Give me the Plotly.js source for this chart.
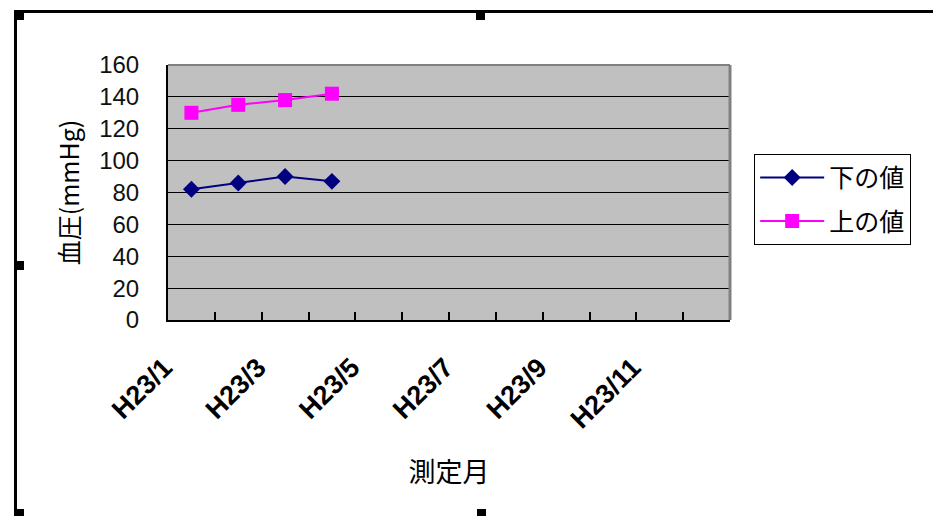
<!DOCTYPE html>
<html>
<head>
<meta charset="utf-8">
<script src="https://cdn.plot.ly/plotly-3.0.1.min.js"></script>
<style>
  html, body { margin: 0; padding: 0; background: #fff; }
  #wrap { position: relative; width: 933px; height: 516px; overflow: hidden; }
  #chart { position: absolute; left: 0; top: 0; width: 933px; height: 516px; }
  .frame { position: absolute; background: #000; }
</style>
</head>
<body>
<div id="wrap">
  <div id="chart"></div>
  <!-- chart-object selection frame -->
  <div class="frame" style="left:14px; top:10px; width:919px; height:3px;"></div>
  <div class="frame" style="left:14px; top:10px; width:3px; height:506px;"></div>
  <div class="frame" style="left:14px; top:10px; width:10px; height:10px;"></div>
  <div class="frame" style="left:476px; top:10px; width:9px; height:10px;"></div>
  <div class="frame" style="left:14px; top:261px; width:10px; height:9px;"></div>
  <div class="frame" style="left:14px; top:509px; width:10px; height:7px;"></div>
  <div class="frame" style="left:477px; top:509px; width:9px; height:7px;"></div>
</div>
<script>
// ---- data ----
const months = ['H23/1','H23/2','H23/3','H23/4','H23/5','H23/6','H23/7','H23/8','H23/9','H23/10','H23/11','H23/12'];
const tickLabels = ['H23/1','H23/3','H23/5','H23/7','H23/9','H23/11'];
const measuredMonths = ['H23/1','H23/2','H23/3','H23/4'];
const lowerValues = [82, 86, 90, 87];   // 下の値
const upperValues = [130, 135, 138, 142]; // 上の値
const seriesNames = ['下の値', '上の値'];

const latin = 'Liberation Sans, Arial, Noto Sans CJK JP, sans-serif';
const cjk = 'Noto Sans CJK JP, Liberation Sans, sans-serif';

const traces = [
  {
    x: measuredMonths, y: lowerValues, name: seriesNames[0], type: 'scatter', mode: 'lines+markers',
    line: {color: '#000080', width: 2},
    marker: {symbol: 'diamond', size: 13, color: '#000080'},
    legendgroup: 'a'
  },
  {
    x: measuredMonths, y: upperValues, name: seriesNames[1], type: 'scatter', mode: 'lines+markers',
    line: {color: '#FF00FF', width: 2},
    marker: {symbol: 'square', size: 14, color: '#FF00FF'},
    legendgroup: 'b'
  }
];

const layout = {
  width: 933, height: 516,
  margin: {l: 168, r: 203, t: 65, b: 196},
  paper_bgcolor: 'rgba(0,0,0,0)',
  plot_bgcolor: '#C0C0C0',
  showlegend: true,
  xaxis: {
    type: 'category',
    categoryorder: 'array', categoryarray: months,
    range: [-0.5, months.length - 0.5],
    tickmode: 'array', tickvals: months,
    ticktext: months.map(m => tickLabels.includes(m) ? m : ''),
    tickson: 'boundaries',
    ticks: 'inside', ticklen: 8, tickwidth: 2, tickcolor: '#000',
    tickangle: -45,
    ticklabelstandoff: 19, ticklabelshift: -27,
    tickfont: {family: latin, size: 27, color: '#000', weight: 'bold'},
    showline: true, linecolor: '#000', linewidth: 2,
    showgrid: false, zeroline: false,
    fixedrange: true,
    title: {text: '測定月', font: {family: cjk, size: 27, color: '#000'}, standoff: 30}
  },
  yaxis: {
    range: [0, 160], dtick: 20, tick0: 0,
    ticks: '', ticklabelstandoff: 22,
    tickfont: {family: latin, size: 24, color: '#111'},
    showline: true, linecolor: '#000', linewidth: 2,
    showgrid: true, gridcolor: '#000', gridwidth: 1,
    zeroline: false, fixedrange: true,
    title: {text: '血圧(mmHg)', font: {family: cjk, size: 25, color: '#000'}, standoff: 12}
  },
  shapes: [
    {type: 'line', xref: 'paper', yref: 'paper', x0: 0, x1: 1, y0: 1, y1: 1, line: {color: '#808080', width: 2}},
    {type: 'line', xref: 'paper', yref: 'paper', x0: 1, x1: 1, y0: 0, y1: 1, line: {color: '#808080', width: 3}}
  ],
  legend: {
    x: 1.043, xanchor: 'left', y: 0.652, yanchor: 'top',
    bordercolor: '#000', borderwidth: 1, bgcolor: '#fff',
    font: {family: cjk, size: 25, color: '#000'},
    tracegroupgap: 8, traceorder: 'grouped', itemwidth: 64
  }
};

Plotly.newPlot('chart', traces, layout, {displayModeBar: false, staticPlot: true});
</script>
</body>
</html>
